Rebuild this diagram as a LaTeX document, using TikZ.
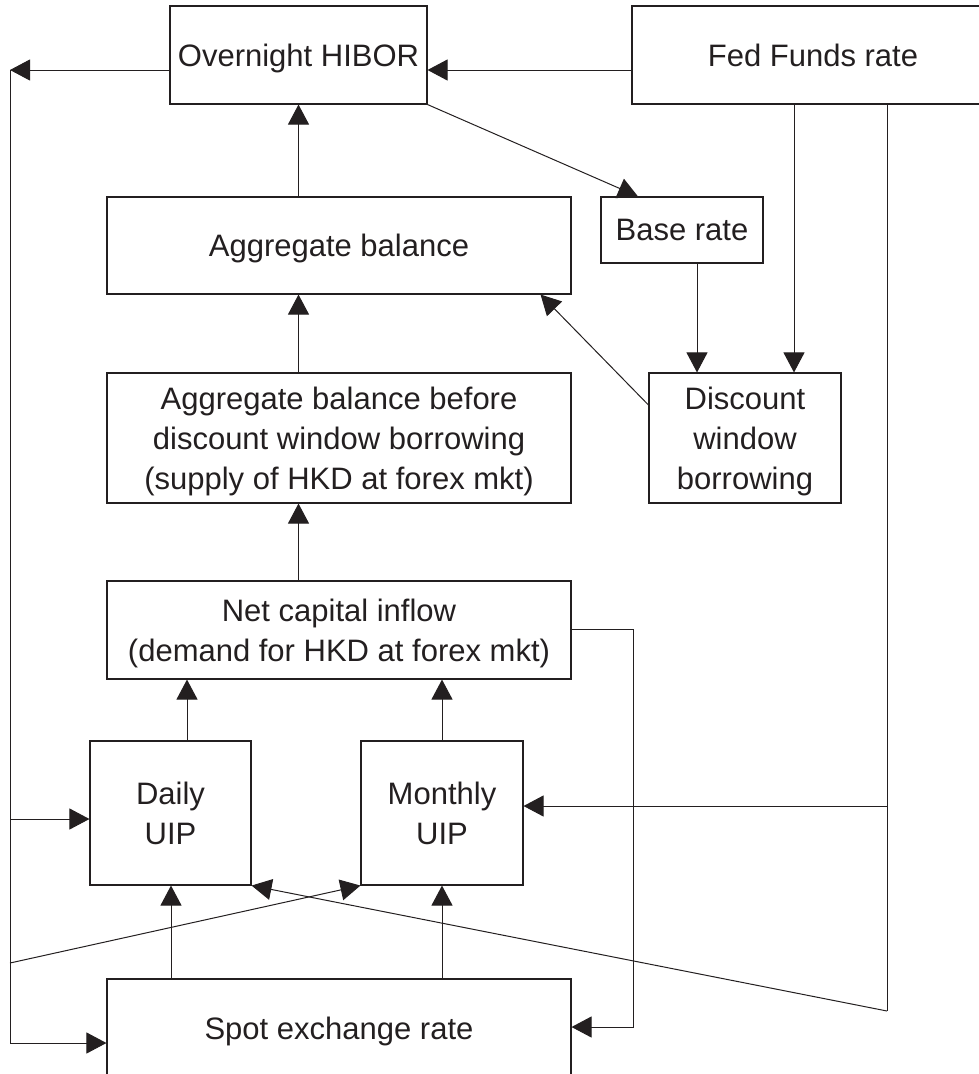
\documentclass[tikz,border=0pt]{standalone}
\usepackage{fontspec}
\setmainfont{Liberation Sans}
\usetikzlibrary{arrows.meta,calc}
\definecolor{ink}{HTML}{231F20}
\begin{document}
\begin{tikzpicture}[x=1pt,y=-1pt,
  box/.style={draw=ink, line width=1.1pt, rectangle, inner sep=0pt, align=center, text=ink, text depth=0pt, font=\fontsize{31}{40}\selectfont},
  conn/.style={draw=ink, line width=1pt},
  arr/.style={conn, -{Triangle[length=20pt,width=21pt]}}]
\useasboundingbox (0,0) rectangle (979,1074);
\begin{scope}
\clip (0,0) rectangle (979,1074);
% boxes
\node[box, minimum width=257pt, minimum height=98pt] (hibor) at (298.5,55) {Overnight HIBOR};
\node[box, minimum width=362pt, minimum height=98pt] (fed) at (813,55) {Fed Funds rate};
\node[box, minimum width=464pt, minimum height=97pt] (aggbal) at (339,245.5) {Aggregate balance};
\node[box, minimum width=162pt, minimum height=66pt] (base) at (682,230) {Base rate};
\node[box, minimum width=464pt, minimum height=130pt] (aggbef) at (339,438) {Aggregate balance before\\discount window borrowing\\(supply of HKD at forex mkt)};
\node[box, minimum width=192pt, minimum height=130pt] (disc) at (745,438) {Discount\\window\\borrowing};
\node[box, minimum width=464pt, minimum height=98pt] (netcap) at (339,630) {Net capital inflow\\(demand for HKD at forex mkt)};
\node[box, minimum width=161pt, minimum height=144pt] (daily) at (170.5,813) {Daily\\UIP};
\node[box, minimum width=162pt, minimum height=144pt] (monthly) at (442,813) {Monthly\\UIP};
\node[box, minimum width=464pt, minimum height=98pt] (spot) at (339,1028) {Spot exchange rate};
% helper coordinates
\coordinate (lt) at (10,70);
\coordinate (ld) at (10,819);
\coordinate (lm) at (10,963);
\coordinate (lb) at (10,1043);
\coordinate (rm) at (887,806);
\coordinate (rb) at (887,1011);
\coordinate (ncx) at (633,629);
\coordinate (ncb) at (633,1027);
\coordinate (dxa) at (187,0);
\coordinate (dxb) at (171,0);
\coordinate (bx) at (638,0);
\coordinate (bx2) at (697,0);
\coordinate (fx) at (794,0);
\coordinate (dy) at (0,405);
% connectors
\draw[arr] (fed.west |- lt) -- (hibor.east |- lt);
\draw[arr] (hibor.west |- lt) -- (lt);
\draw[conn] (lt) -- (lb);
\draw[arr] (ld) -- (daily.west |- ld);
\draw[arr] (lb) -- (spot.west |- lb);
\draw[arr] (lm) -- (monthly.south west);
\draw[arr] (aggbal.north -| hibor.south) -- (hibor.south);
\draw[arr] (aggbef.north -| hibor.south) -- (aggbal.south -| hibor.south);
\draw[arr] (netcap.north -| hibor.south) -- (aggbef.south -| hibor.south);
\draw[arr] (daily.north -| dxa) -- (netcap.south -| dxa);
\draw[arr] (monthly.north) -- (netcap.south -| monthly.north);
\draw[arr] (spot.north -| dxb) -- (daily.south -| dxb);
\draw[arr] (spot.north -| monthly.south) -- (monthly.south);
\draw[arr] (hibor.south east) -- (base.north -| bx);
\draw[arr] (base.south -| bx2) -- (disc.north -| bx2);
\draw[arr] (fed.south -| fx) -- (disc.north -| fx);
\draw[conn] (fed.south -| rb) -- (rb);
\draw[arr] (rm) -- (monthly.east |- rm);
\draw[arr] (rb) -- (daily.south east);
\draw[arr] (disc.west |- dy) -- ($(aggbal.south east)+(-31,0)$);
\draw[arr] (netcap.east |- ncx) -- (ncx) -- (ncb) -- (spot.east |- ncb);
\end{scope}
\end{tikzpicture}
\end{document}
